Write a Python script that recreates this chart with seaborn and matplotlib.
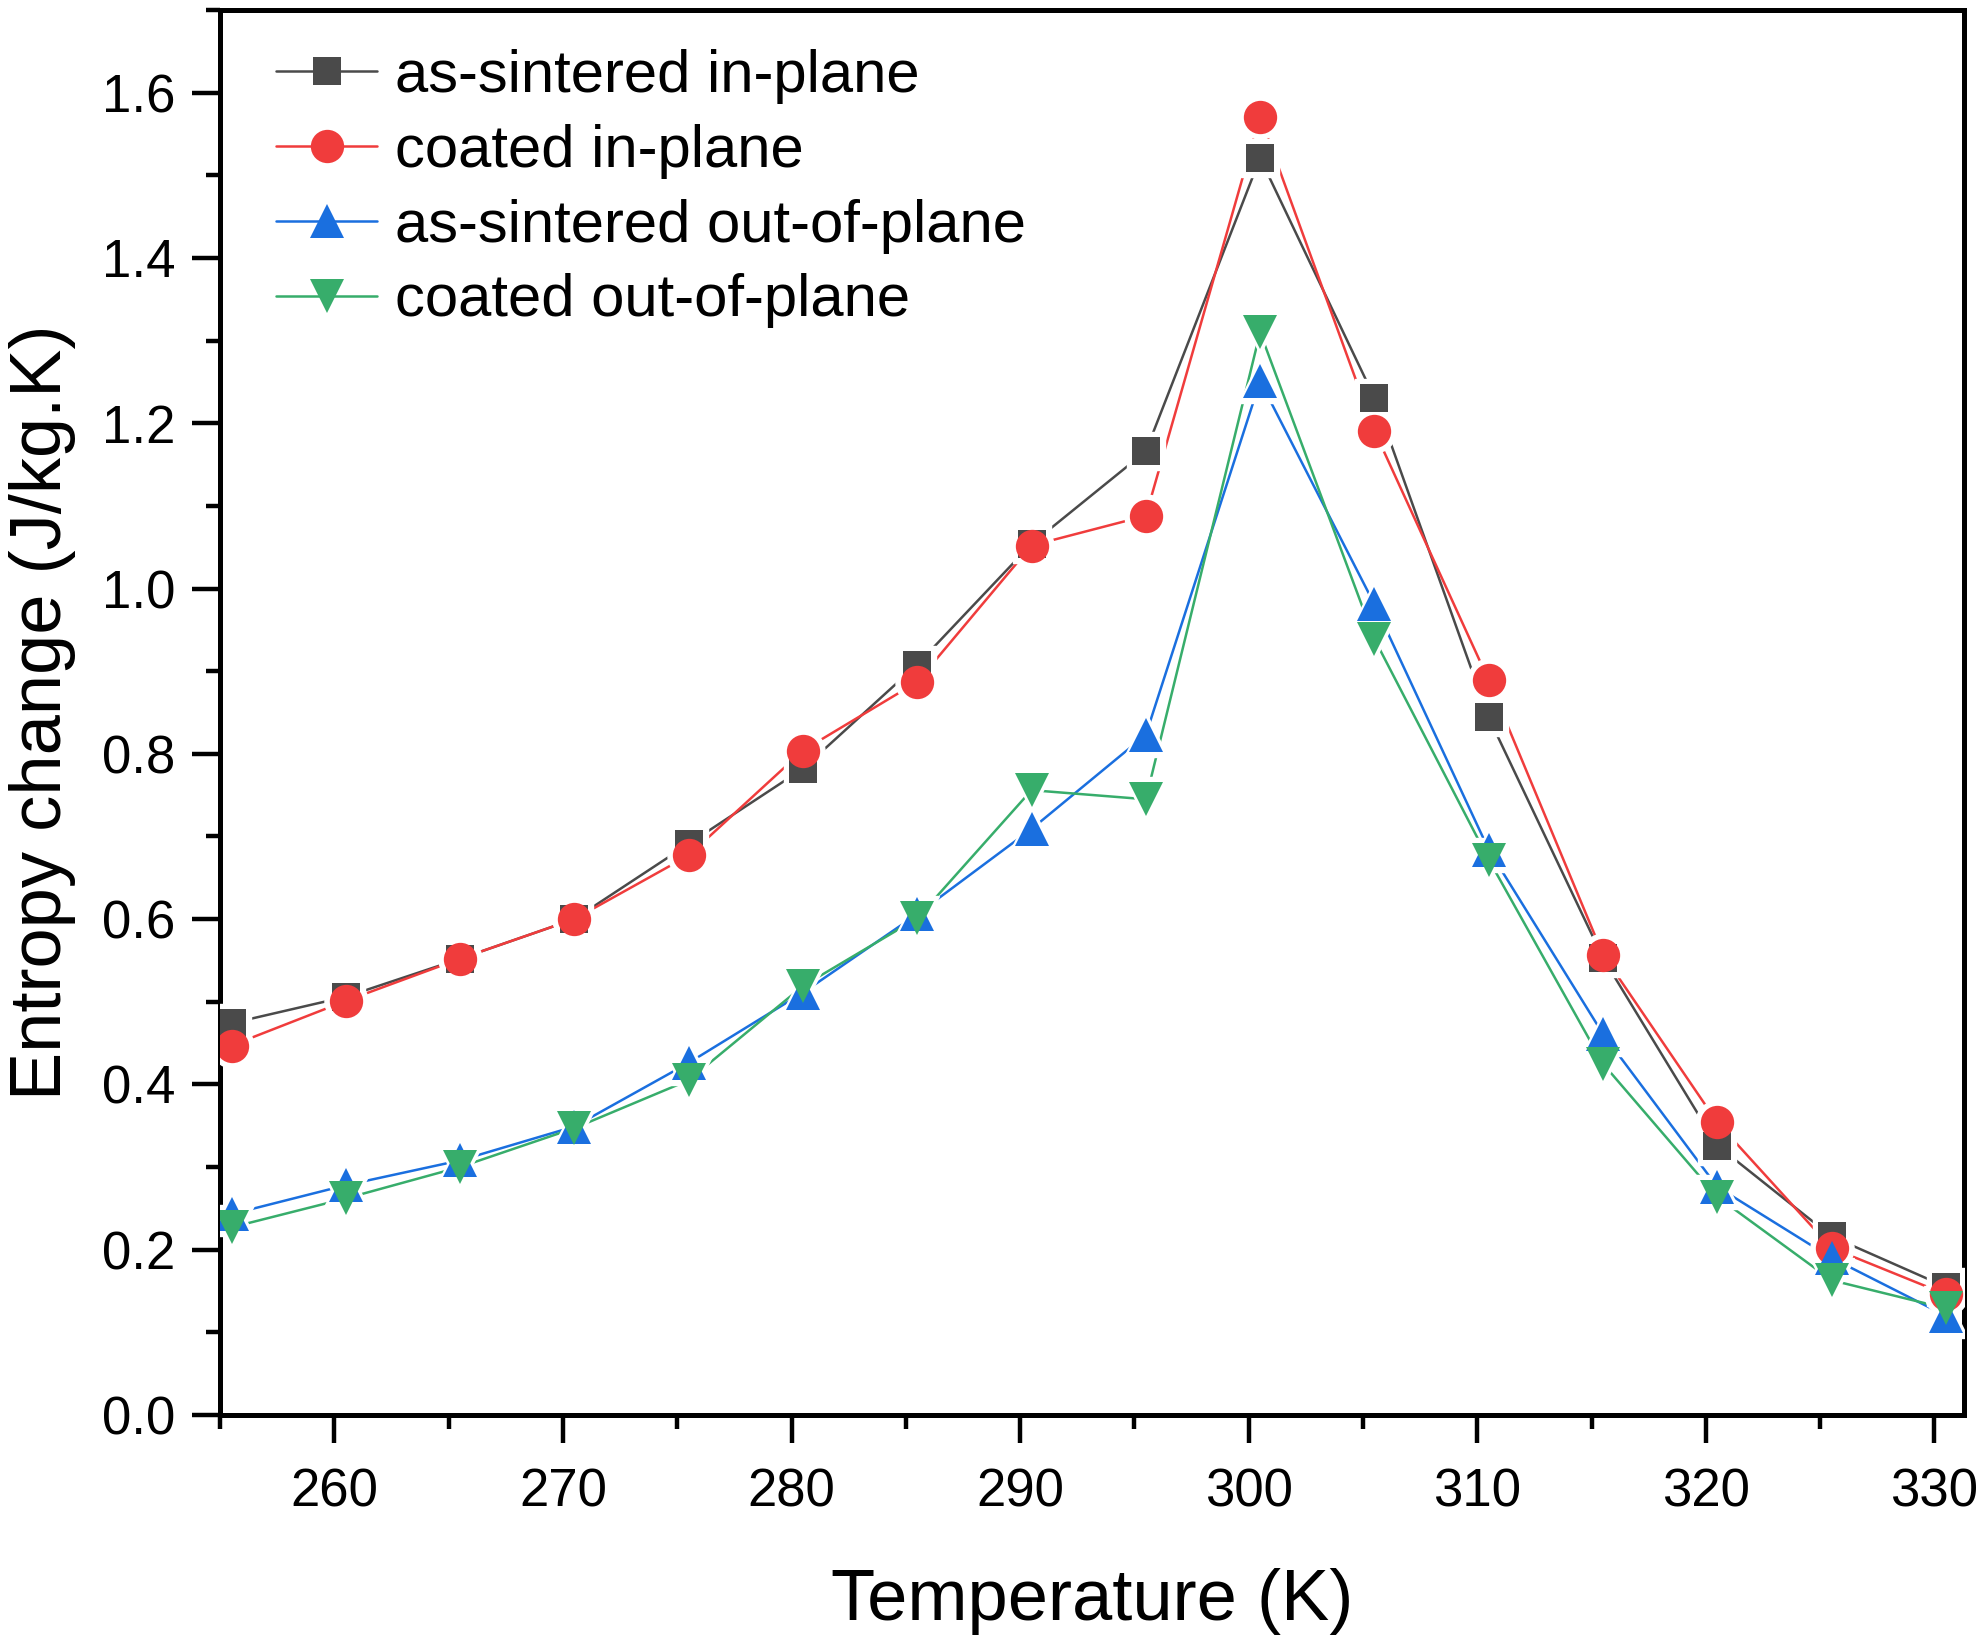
import matplotlib
matplotlib.use("Agg")
import matplotlib.pyplot as plt
from matplotlib.lines import Line2D
from matplotlib.ticker import MultipleLocator
import pandas as pd
import seaborn as sns

# data
temperature = [255.5, 260.5, 265.5, 270.5, 275.5, 280.5, 285.5, 290.5,
               295.5, 300.5, 305.5, 310.5, 315.5, 320.5, 325.5, 330.5]
as_sintered_in = [0.474, 0.506, 0.552, 0.600, 0.691, 0.782, 0.908, 1.054,
                  1.166, 1.521, 1.231, 0.844, 0.553, 0.326, 0.216, 0.155]
coated_in = [0.447, 0.501, 0.552, 0.600, 0.677, 0.804, 0.887, 1.052,
             1.088, 1.571, 1.191, 0.889, 0.557, 0.354, 0.202, 0.146]
as_sintered_out = [0.243, 0.278, 0.308, 0.349, 0.426, 0.511, 0.606, 0.709,
                   0.823, 1.251, 0.981, 0.684, 0.461, 0.276, 0.190, 0.120]
coated_out = [0.227, 0.262, 0.300, 0.347, 0.405, 0.519, 0.601, 0.756,
              0.745, 1.310, 0.939, 0.672, 0.425, 0.264, 0.163, 0.129]

labels = ["as-sintered in-plane", "coated in-plane",
          "as-sintered out-of-plane", "coated out-of-plane"]
colors = ["#4a4a4a", "#f03c3c", "#1a6fdf", "#37ad6b"]
markers = ["s", "o", "^", "v"]
sizes = [20, 24, 25, 25]

df = pd.DataFrame({"T": temperature * 4,
                   "dS": as_sintered_in + coated_in + as_sintered_out + coated_out,
                   "sample": sum([[l] * len(temperature) for l in labels], [])})

sns.set_theme(style="ticks")
plt.rcParams["font.family"] = ["Liberation Sans", "DejaVu Sans"]
plt.rcParams["text.color"] = "black"
plt.rcParams["axes.labelcolor"] = "black"

fig = plt.figure(figsize=(19.88, 16.43), dpi=100)
ax = fig.add_axes([0.1107, 0.1388, 0.8773, 0.8551])

# lines first
sns.lineplot(data=df, x="T", y="dS", hue="sample", hue_order=labels,
             palette=colors, linewidth=1.8, legend=False, ax=ax, zorder=2)

# white halos so the lines stop short of the markers, then the markers
for lab, m, s in zip(labels, markers, sizes):
    sub = df[df["sample"] == lab]
    ax.plot(sub["T"], sub["dS"], ls="none", marker=m, ms=s + 7,
            color="white", mec="white", zorder=3)
for lab, c, m, s in zip(labels, colors, markers, sizes):
    sub = df[df["sample"] == lab]
    ax.plot(sub["T"], sub["dS"], ls="none", marker=m, ms=s,
            color=c, mec=c, mew=0, zorder=4)

ax.set_xlim(255, 331.3)
ax.set_ylim(0, 1.7)
ax.xaxis.set_major_locator(MultipleLocator(10))
ax.xaxis.set_minor_locator(MultipleLocator(5))
ax.yaxis.set_major_locator(MultipleLocator(0.2))
ax.yaxis.set_minor_locator(MultipleLocator(0.1))
ax.set_xticks(range(260, 331, 10))
ax.yaxis.set_major_formatter(plt.FuncFormatter(lambda v, p: f"{v:.1f}"))

for sp in ax.spines.values():
    sp.set_visible(True)
    sp.set_linewidth(3.6)
    sp.set_color("black")
ax.tick_params(which="major", direction="out", length=20, width=3.2,
               labelsize=38, color="black", labelcolor="black")
ax.tick_params(axis="x", which="major", pad=18)
ax.tick_params(axis="y", which="major", pad=12)
ax.tick_params(which="minor", direction="out", length=10, width=3.2,
               color="black")
ax.tick_params(top=False, right=False, which="both")

ax.set_xlabel("Temperature (K)", fontsize=52, labelpad=36)
ax.set_ylabel("Entropy change (J/kg.K)", fontsize=52, labelpad=19)

handles = [Line2D([], [], color=c, lw=1.8, marker=m, ms=s, mew=0)
           for c, m, s in zip(colors, markers, sizes)]
ax.legend(handles, labels, loc="upper left", bbox_to_anchor=(0.032, 0.972),
          frameon=False, fontsize=43, handlelength=1.7, handletextpad=0.3,
          labelspacing=0.33, borderpad=0, borderaxespad=0, numpoints=1)

fig.savefig("out.png", dpi=100)
